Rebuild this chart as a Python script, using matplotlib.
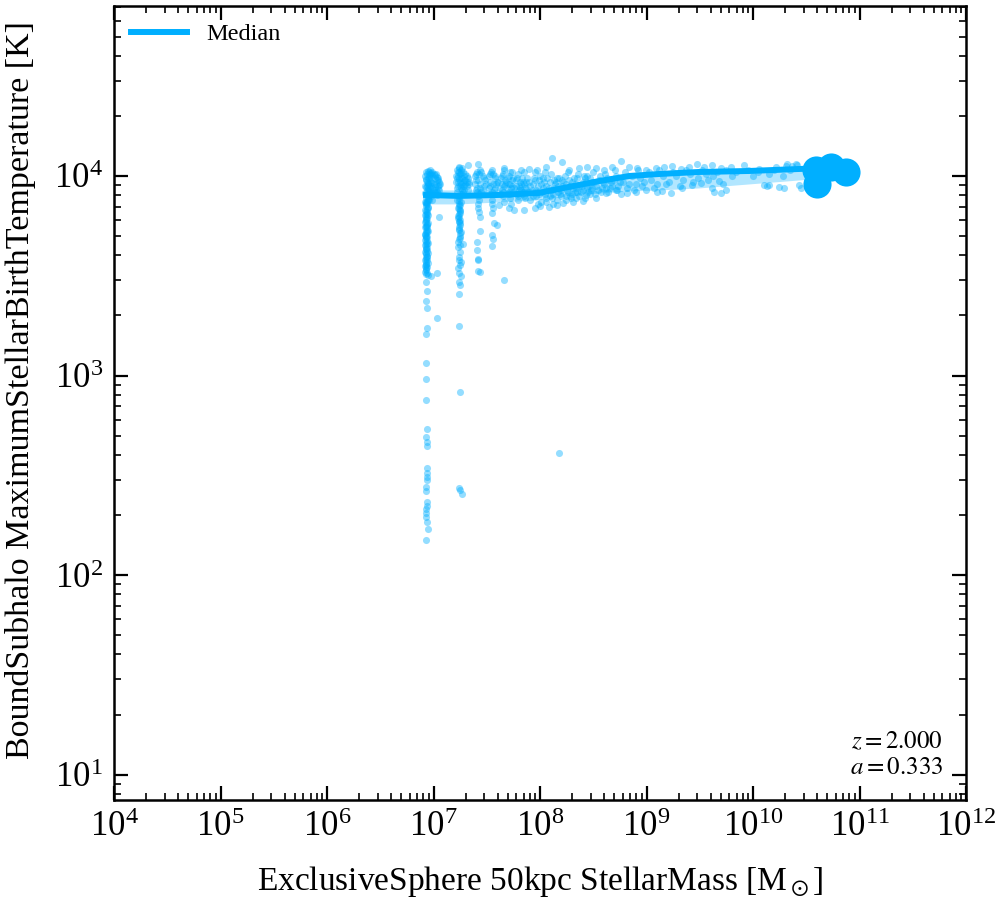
import numpy as np
import matplotlib
matplotlib.use("Agg")
import matplotlib.pyplot as plt
from matplotlib.ticker import LogLocator, NullFormatter

plt.rcParams['font.family'] = ['Liberation Serif', 'DejaVu Serif']
plt.rcParams['mathtext.fontset'] = 'stix'

col = '#00AFFF'

# (log10 M*, log10 Tmax)
col1_pts = [(6.93, 4.02), (6.94, 4.012), (6.95, 4.023), (6.97, 4.01), (6.99, 4.004), (7.01, 3.99),
            (7.03, 3.982), (7.05, 3.97), (7.04, 3.95), (7.02, 3.93), (7.00, 3.912), (6.98, 3.90),
            (7.03, 3.905), (6.96, 3.99), (6.98, 3.972), (7.00, 3.96), (6.97, 3.94), (6.95, 3.962),
            (6.93, 3.98), (6.92, 3.952), (6.94, 3.93), (6.92, 3.913), (6.95, 3.90), (6.93, 3.89),
            (6.96, 3.882), (6.92, 3.87), (6.94, 3.861), (6.93, 3.85), (6.95, 3.842), (6.92, 3.83),
            (6.94, 3.821), (6.93, 3.81), (6.92, 3.802), (6.94, 3.79), (6.93, 3.781), (6.92, 3.77),
            (6.94, 3.76), (6.93, 3.751), (6.92, 3.742), (6.94, 3.73), (6.93, 3.722), (6.92, 3.71),
            (6.93, 3.70), (6.94, 3.692), (6.92, 3.68), (6.93, 3.671), (6.93, 3.66), (6.92, 3.652),
            (6.94, 3.64), (6.93, 3.632), (6.92, 3.62), (6.93, 3.611), (6.94, 3.60), (6.93, 3.592),
            (6.92, 3.58), (6.93, 3.57), (6.93, 3.561), (6.92, 3.55), (6.94, 3.542), (6.93, 3.53),
            (6.92, 3.521), (6.93, 3.51), (6.92, 4.00), (6.95, 3.99), (6.97, 3.92), (6.99, 3.94),
            (7.02, 3.96), (6.96, 3.91), (6.94, 3.97), (6.98, 3.99), (7.01, 3.92), (7.00, 4.01),
            (6.96, 4.02), (7.04, 3.99), (6.99, 3.88), (6.97, 4.03), (6.99, 4.02), (7.02, 4.01),
            (7.04, 3.98), (7.06, 3.96), (7.05, 3.93), (7.03, 3.92), (7.00, 3.93), (6.98, 3.95),
            (6.96, 3.93), (6.95, 3.94), (6.94, 3.95), (6.95, 3.88), (6.94, 3.87), (6.93, 3.86),
            (6.935, 3.835), (6.925, 3.795), (6.935, 3.755), (6.925, 3.715), (6.935, 3.675),
            (6.925, 3.635), (6.935, 3.595), (6.925, 3.555), (6.935, 3.515), (6.94, 3.745),
            (6.92, 3.705), (6.94, 3.625), (6.925, 3.985), (6.945, 3.965), (6.925, 3.945),
            (6.945, 3.925), (6.925, 3.905), (6.945, 3.885), (6.925, 3.865), (6.945, 3.845),
            (6.925, 3.825), (6.945, 3.805), (6.925, 3.785), (6.945, 3.765), (6.925, 3.745),
            (6.945, 3.725), (6.925, 3.695), (6.945, 3.665), (6.925, 3.645), (6.945, 3.615),
            (6.925, 3.585), (6.945, 3.565), (6.925, 3.535), (6.945, 3.505), (6.93, 3.543),
            (6.94, 3.577), (6.93, 3.613), (6.94, 3.657), (6.93, 3.688), (6.94, 3.718),
            (6.93, 3.767), (6.94, 3.808), (6.93, 3.872), (6.94, 3.912), (6.96, 4.005),
            (6.98, 4.015), (7.01, 4.005), (7.03, 3.995), (7.05, 3.955), (7.04, 3.935),
            (7.01, 3.945), (6.99, 3.965), (6.97, 3.975), (6.96, 3.955), (6.97, 3.905),
            (6.99, 3.915)]
col1_tail = [(6.93, 3.469), (6.94, 3.424), (6.93, 3.373), (6.94, 3.338), (7.03, 3.288),
             (6.94, 3.238), (6.93, 3.208), (6.93, 3.063), (6.93, 2.982), (6.93, 2.877),
             (6.94, 2.732), (6.93, 2.692), (6.94, 2.667), (6.94, 2.647), (6.94, 2.536),
             (6.94, 2.511), (6.94, 2.491), (6.94, 2.476), (6.93, 2.441), (6.93, 2.421),
             (6.94, 2.366), (6.94, 2.346), (6.93, 2.331), (6.93, 2.311), (6.93, 2.291),
             (6.94, 2.266), (6.95, 2.231), (6.93, 2.175), (7.03, 3.514), (7.05, 3.794),
             (6.98, 3.50)]
col2_pts = [(7.22, 4.03), (7.24, 4.04), (7.26, 4.03), (7.28, 4.02), (7.30, 4.01), (7.32, 3.99),
            (7.33, 3.97), (7.31, 3.95), (7.29, 3.93), (7.27, 3.91), (7.24, 3.90), (7.22, 3.92),
            (7.23, 3.95), (7.25, 3.97), (7.27, 3.99), (7.29, 3.98), (7.25, 4.01), (7.23, 4.00),
            (7.26, 3.94), (7.30, 3.96), (7.22, 3.88), (7.24, 3.86), (7.23, 3.84), (7.25, 3.83),
            (7.24, 3.81), (7.23, 3.80), (7.25, 3.78), (7.24, 3.77), (7.23, 3.79), (7.26, 3.87),
            (7.24, 3.89), (7.24, 3.744), (7.25, 3.689), (7.23, 3.644), (7.24, 3.594),
            (7.26, 3.569), (7.25, 3.554), (7.23, 3.539), (7.24, 3.514), (7.26, 3.499),
            (7.24, 3.469), (7.25, 3.454), (7.24, 3.409), (7.24, 3.248), (7.25, 2.917),
            (7.24, 2.436), (7.25, 2.426), (7.27, 2.406), (7.26, 3.72), (7.28, 3.66),
            (7.24, 4.045), (7.32, 4.055), (7.21, 4.00), (7.23, 4.02), (7.27, 4.04), (7.31, 4.00),
            (7.33, 3.96), (7.32, 3.93), (7.28, 3.92), (7.25, 3.91), (7.22, 3.94), (7.21, 3.97),
            (7.26, 3.96), (7.28, 3.95), (7.24, 3.985), (7.235, 3.85), (7.245, 3.825),
            (7.235, 3.795), (7.245, 3.765), (7.24, 3.73), (7.25, 3.70), (7.23, 3.67),
            (7.25, 3.62), (7.24, 3.58), (7.235, 3.875), (7.245, 3.855), (7.235, 3.835),
            (7.245, 3.815), (7.235, 3.775), (7.245, 3.755), (7.235, 3.735), (7.245, 3.715),
            (7.235, 3.685), (7.25, 3.655), (7.26, 3.99), (7.28, 3.97), (7.30, 3.98),
            (7.31, 3.97), (7.29, 3.95), (7.27, 3.93), (7.25, 3.95), (7.23, 3.97), (7.22, 3.99),
            (7.24, 4.02), (7.26, 4.015), (7.29, 4.00)]
col3_pts = [(7.39, 4.00), (7.41, 4.02), (7.43, 4.01), (7.46, 4.00), (7.48, 3.98), (7.47, 3.95),
            (7.45, 3.92), (7.42, 3.90), (7.40, 3.93), (7.39, 3.96), (7.42, 3.98), (7.44, 3.96),
            (7.41, 3.94), (7.43, 3.88), (7.42, 3.86), (7.44, 3.794), (7.44, 3.724), (7.41, 3.669),
            (7.41, 3.629), (7.42, 3.584), (7.42, 3.524), (7.44, 3.519), (7.42, 3.579),
            (7.44, 4.03), (7.42, 4.06), (7.40, 4.01), (7.45, 4.02), (7.47, 3.99), (7.49, 3.96),
            (7.46, 3.93), (7.43, 3.91), (7.41, 3.92), (7.40, 3.98), (7.44, 3.94), (7.42, 3.84),
            (7.43, 3.82)]
col4_pts = [(7.52, 4.00), (7.54, 4.02), (7.56, 4.01), (7.58, 3.99), (7.59, 3.96), (7.57, 3.93),
            (7.54, 3.91), (7.52, 3.94), (7.53, 3.97), (7.56, 3.96), (7.55, 3.88), (7.55, 3.815),
            (7.57, 3.764), (7.60, 3.754), (7.55, 3.704), (7.56, 3.684), (7.55, 3.649),
            (7.53, 4.01), (7.55, 4.03), (7.58, 4.00), (7.60, 3.97), (7.58, 3.94), (7.55, 3.92),
            (7.53, 3.95), (7.55, 3.86), (7.56, 3.84)]
col5_pts = [(7.63, 3.99), (7.65, 4.01), (7.67, 3.98), (7.66, 3.95), (7.64, 3.93), (7.65, 3.90),
            (7.66, 3.87), (7.64, 3.96), (7.66, 4.03), (7.66, 3.479), (7.70, 3.99), (7.72, 4.02),
            (7.74, 3.98), (7.73, 3.94), (7.71, 3.92), (7.72, 3.89), (7.73, 3.86), (7.72, 3.96),
            (7.77, 3.98), (7.79, 4.01), (7.81, 3.97), (7.80, 3.93), (7.78, 3.91), (7.79, 3.88),
            (7.80, 3.95), (7.83, 3.99), (7.85, 3.96), (7.84, 3.92), (7.86, 3.89), (7.85, 4.02),
            (7.64, 4.00), (7.67, 3.96), (7.65, 3.92), (7.71, 4.00), (7.74, 3.95), (7.72, 3.91),
            (7.78, 3.99), (7.81, 3.94), (7.79, 3.90), (7.84, 3.97), (7.86, 3.94), (7.85, 3.90)]
field_hi = [(7.664, 4.040), (7.739, 4.020), (7.824, 4.030), (7.899, 4.035), (7.974, 4.030),
            (8.058, 4.045), (8.114, 4.090), (8.208, 4.070), (8.274, 4.030), (8.367, 4.040),
            (8.442, 4.045), (8.527, 4.040), (8.602, 4.030), (8.677, 4.045), (8.761, 4.075),
            (8.836, 4.045), (8.911, 4.040), (8.995, 4.030), (9.089, 4.040), (9.164, 4.045),
            (9.239, 4.050), (9.323, 4.035), (9.398, 4.045), (9.473, 4.060), (9.539, 4.045),
            (9.614, 4.055), (9.698, 4.040), (9.792, 4.045), (9.914, 4.055), (10.054, 4.035),
            (10.214, 4.045), (10.307, 4.050), (10.410, 4.055), (10.37, 4.05), (10.32, 4.06),
            (10.40, 4.06)]
field_lo = [(7.618, 3.855), (7.711, 3.840), (7.758, 3.830), (7.852, 3.830), (7.955, 3.840),
            (8.058, 3.870), (8.161, 3.855), (8.246, 3.880), (8.339, 3.890), (8.433, 3.905),
            (8.527, 3.890), (8.620, 3.915), (8.714, 3.930), (8.817, 3.915), (8.902, 3.920),
            (8.995, 3.930), (9.098, 3.920), (9.145, 3.925), (9.230, 3.915), (9.333, 3.940),
            (9.426, 3.955), (9.511, 3.965), (9.614, 3.940), (9.698, 3.915), (9.745, 3.930),
            (10.148, 3.955), (10.289, 3.940), (10.429, 3.955), (9.63, 3.92), (9.68, 3.975),
            (9.72, 3.96), (10.10, 3.955), (10.13, 3.95), (10.24, 3.945), (10.45, 3.94),
            (8.18, 2.612), (8.00, 3.85), (8.12, 3.86), (8.22, 3.865), (8.31, 3.87),
            (8.40, 3.875), (7.98, 3.86), (8.08, 3.845)]
field_mid = [(7.90, 3.97), (7.92, 3.93), (7.94, 3.99), (7.96, 3.90), (7.98, 3.95), (8.00, 4.00),
             (8.02, 3.92), (8.04, 3.97), (8.06, 3.89), (8.08, 3.94), (8.10, 4.01), (8.12, 3.91),
             (8.14, 3.96), (8.16, 3.88), (8.18, 3.99), (8.20, 3.93), (8.22, 3.97), (8.24, 3.90),
             (8.26, 4.02), (8.28, 3.95), (8.30, 3.91), (8.32, 3.99), (8.34, 3.94), (8.36, 4.01),
             (8.38, 3.92), (8.40, 3.97), (8.42, 3.89), (8.44, 4.00), (8.46, 3.95), (8.48, 3.93),
             (8.50, 4.02), (8.52, 3.91), (8.55, 3.98), (8.58, 3.94), (8.61, 4.01), (8.64, 3.92),
             (8.67, 3.97), (8.70, 4.03), (8.73, 3.95), (8.76, 3.91), (8.80, 4.02), (8.84, 3.96),
             (8.88, 3.93), (8.92, 4.03), (8.96, 3.95), (9.02, 4.02), (9.07, 3.94), (9.12, 4.03),
             (9.18, 3.96), (9.25, 4.02), (9.31, 3.95), (9.37, 4.03), (9.44, 3.97), (9.52, 4.03),
             (9.58, 3.98), (9.66, 4.02), (9.75, 4.03), (9.84, 4.02), (9.95, 4.03), (10.05, 4.02),
             (10.20, 4.03), (10.35, 4.03), (7.62, 3.94), (7.68, 3.97), (7.70, 3.91), (7.75, 3.99),
             (7.76, 3.94), (7.82, 3.93), (7.88, 3.99), (7.91, 3.88), (7.87, 3.94), (7.95, 4.02),
             (8.01, 3.87), (8.05, 4.02), (8.09, 3.90), (8.13, 3.98), (8.19, 3.91), (8.23, 4.00),
             (8.29, 3.89), (8.33, 3.96), (8.37, 3.90), (8.41, 4.00), (8.45, 3.92),
             (7.93, 3.96), (7.97, 3.92), (7.99, 3.98), (8.03, 3.94), (8.07, 3.99), (8.11, 3.93),
             (8.15, 3.97), (8.17, 3.92), (8.21, 3.95), (8.25, 3.93), (8.27, 3.98), (8.31, 3.94),
             (8.35, 3.92), (8.39, 3.95), (8.43, 3.97), (8.47, 3.91), (8.49, 3.97), (8.53, 3.95),
             (8.57, 3.92), (8.60, 3.96), (8.63, 3.99), (8.66, 3.94), (8.69, 3.98), (8.72, 3.93),
             (8.78, 3.97), (8.82, 3.94), (8.86, 4.00), (8.90, 3.96), (8.94, 3.99), (8.98, 3.97),
             (9.04, 3.98), (9.10, 3.96), (9.15, 4.00), (9.21, 3.97), (9.28, 4.00), (9.34, 3.98),
             (9.41, 4.01), (9.48, 3.99), (9.56, 4.01), (9.62, 4.00), (9.80, 4.00), (10.0, 4.00),
             (10.15, 4.01), (10.28, 4.00)]
field_core = [(7.61, 3.97), (7.63, 3.91), (7.69, 3.94), (7.71, 3.96), (7.75, 3.92), (7.77, 3.95),
              (7.82, 3.96), (7.83, 3.91), (7.87, 3.97), (7.89, 3.92), (7.91, 3.95), (7.93, 3.90),
              (7.95, 3.98), (7.96, 3.93), (7.99, 3.91), (8.01, 3.96), (8.03, 3.99), (8.05, 3.91),
              (8.06, 3.95), (8.09, 3.97), (8.11, 3.89), (8.13, 3.94), (8.16, 3.99), (8.17, 3.95),
              (8.20, 3.90), (8.21, 3.98), (8.24, 3.96), (8.26, 3.92), (8.28, 3.90), (8.30, 3.97),
              (8.33, 3.92), (8.35, 3.99), (8.37, 3.95), (8.40, 3.93), (8.42, 3.99), (8.44, 3.94),
              (8.47, 3.99), (8.49, 3.94), (8.51, 3.97), (8.54, 3.93), (8.56, 4.00), (8.59, 3.97),
              (8.62, 3.94), (8.65, 3.98), (8.68, 3.95), (8.71, 4.00), (8.75, 3.97)]

# most massive objects, drawn large
big_logm = [10.59, 10.73, 10.87, 10.60]
big_logt = [4.030, 4.045, 4.020, 3.960]

# running median and 16-84 band
med_logm = [6.93, 7.24, 7.62, 7.99, 8.27, 8.56, 8.84, 9.12, 9.49, 9.96, 10.43, 10.55]
med_logt = [3.905, 3.900, 3.905, 3.915, 3.945, 3.975, 4.000, 4.010, 4.020, 4.025, 4.035, 4.037]
lo_logt = [3.86, 3.86, 3.87, 3.88, 3.90, 3.915, 3.925, 3.93, 3.94, 3.96, 3.98, 3.985]
hi_logt = [3.93, 3.93, 3.93, 3.94, 3.96, 3.985, 4.01, 4.02, 4.03, 4.035, 4.045, 4.047]

pts = np.array(col1_pts + col1_tail + col2_pts + col3_pts + col4_pts + col5_pts
               + field_hi + field_lo + field_mid + field_core)
mstar = 10 ** pts[:, 0]
tmax = 10 ** pts[:, 1]

fig = plt.figure(figsize=(9.96, 9.0), dpi=100)
ax = fig.add_axes([0.1145, 0.111, 0.8554, 0.8822])

mx = 10 ** np.array(med_logm)
ax.fill_between(mx, 10 ** np.array(lo_logt), 10 ** np.array(hi_logt),
                color=col, alpha=0.3, lw=0, zorder=1)
ax.scatter(mstar, tmax, s=26, color=col, alpha=0.42, lw=0, zorder=2)
ax.plot(mx, 10 ** np.array(med_logt), color=col, lw=4.3, label='Median', zorder=3)
ax.scatter(10 ** np.array(big_logm), 10 ** np.array(big_logt), s=410, color=col,
           lw=0, zorder=4)

ax.set_xscale('log')
ax.set_yscale('log')
ax.set_xlim(1e4, 1e12)
ax.set_ylim(7.45, 7.1e4)

ax.xaxis.set_major_locator(LogLocator(base=10, numticks=20))
ax.xaxis.set_minor_locator(LogLocator(base=10, subs=np.arange(2, 10), numticks=20))
ax.xaxis.set_minor_formatter(NullFormatter())
ax.yaxis.set_minor_locator(LogLocator(base=10, subs=np.arange(2, 10), numticks=20))
ax.yaxis.set_minor_formatter(NullFormatter())

ax.tick_params(which='both', direction='in', top=True, right=True, labelsize=25)
ax.tick_params(which='major', length=10, width=1.6, pad=8)
ax.tick_params(which='minor', length=5, width=1.2)
for s in ax.spines.values():
    s.set_linewidth(1.8)

ax.set_xlabel(r'ExclusiveSphere 50kpc StellarMass [M$_\odot$]', fontsize=24, labelpad=14)
ax.set_ylabel('BoundSubhalo MaximumStellarBirthTemperature [K]', fontsize=24.5)
ax.yaxis.set_label_coords(-0.092, 0.517)

ax.legend(loc='upper left', frameon=False, fontsize=17.5, handlelength=2.3,
          borderaxespad=0.3)
ax.text(0.973, 0.027, '$z=2.000$\n$a=0.333$', transform=ax.transAxes,
        ha='right', va='bottom', fontsize=18, linespacing=1.2)

fig.savefig('out.png', dpi=100)
